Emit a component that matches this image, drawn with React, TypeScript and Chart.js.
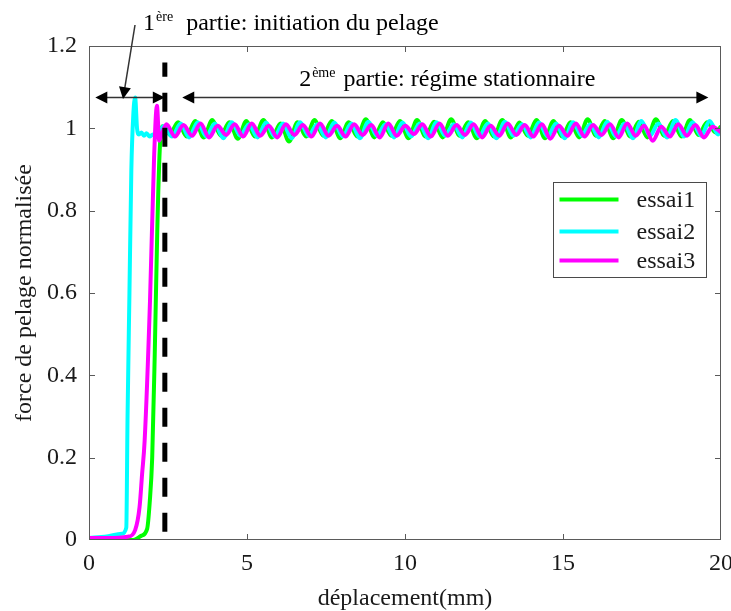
import React, { useEffect, useRef } from "react";
import { Chart, registerables } from "chart.js";

Chart.register(...registerables);

// ---------- data ----------
const seriesNames = ["essai1", "essai2", "essai3"];
const seriesColors = ["#00ff00", "#00ffff", "#ff00ff"];

const essai1X = [
  0, 0.6, 1.2, 1.4, 1.65, 1.84, 1.92, 2.0, 2.08, 2.16, 2.24, 2.32, 2.42,
  2.55, 2.82, 3.09, 3.36, 3.63, 3.9, 4.17, 4.44, 4.71, 4.98, 5.25, 5.52, 5.79, 6.06, 6.33, 6.6,
  6.87, 7.14, 7.41, 7.68, 7.95, 8.22, 8.49, 8.76, 9.03, 9.3, 9.57, 9.84, 10.11, 10.38, 10.65,
  10.92, 11.19, 11.46, 11.73, 12.0, 12.27, 12.54, 12.81, 13.08, 13.35, 13.62, 13.89, 14.16,
  14.43, 14.7, 14.97, 15.24, 15.51, 15.78, 16.05, 16.32, 16.59, 16.86, 17.13, 17.4, 17.67,
  17.94, 18.21, 18.48, 18.75, 19.02, 19.29, 19.56, 19.83, 20.0,
];
const essai1Y = [
  0, 0, 0, 0, 0.01, 0.027, 0.09, 0.2, 0.45, 0.75, 0.95, 1.005, 1.0,
  0.985, 1.015, 0.98, 1.018, 0.978, 1.02, 0.982, 1.015, 0.975, 1.018, 0.98, 1.02, 0.978, 1.012,
  0.968, 1.015, 0.98, 1.02, 0.982, 1.018, 0.976, 1.015, 0.98, 1.022, 0.978, 1.015, 0.982, 1.018,
  0.976, 1.02, 0.98, 1.016, 0.978, 1.022, 0.982, 1.015, 0.976, 1.018, 0.98, 1.02, 0.978, 1.014,
  0.982, 1.02, 0.976, 1.018, 0.98, 1.015, 0.978, 1.022, 0.982, 1.018, 0.976, 1.02, 0.98, 1.016,
  0.978, 1.022, 0.982, 1.018, 0.98, 1.02, 0.984, 1.015, 0.99, 1.005,
];

const essai2X = [
  0, 0.5, 1.04, 1.18, 1.22, 1.28, 1.34, 1.4, 1.46, 1.52, 1.58, 1.66, 1.74, 1.82, 1.92, 2.02,
  2.12, 2.22, 2.36,
  2.63, 2.9, 3.17, 3.44, 3.71, 3.98, 4.25, 4.52, 4.79, 5.06, 5.33, 5.6, 5.87, 6.14, 6.41, 6.68,
  6.95, 7.22, 7.49, 7.76, 8.03, 8.3, 8.57, 8.84, 9.11, 9.38, 9.65, 9.92, 10.19, 10.46, 10.73,
  11.0, 11.27, 11.54, 11.81, 12.08, 12.35, 12.62, 12.89, 13.16, 13.43, 13.7, 13.97, 14.24,
  14.51, 14.78, 15.05, 15.32, 15.59, 15.86, 16.13, 16.4, 16.67, 16.94, 17.21, 17.48, 17.75,
  18.02, 18.29, 18.56, 18.83, 19.1, 19.37, 19.64, 19.91, 20.0,
];
const essai2Y = [
  0.005, 0.008, 0.015, 0.03, 0.3, 0.6, 0.9, 1.03, 1.075, 1.0, 0.985, 0.99, 0.982, 0.988, 0.98,
  0.985, 0.98, 0.99, 1.005,
  0.98, 1.012, 0.978, 1.015, 0.98, 1.012, 0.976, 1.015, 0.982, 1.01, 0.978, 1.014, 0.98, 1.012,
  0.976, 1.015, 0.982, 1.01, 0.978, 1.014, 0.98, 1.012, 0.976, 1.016, 0.982, 1.01, 0.978, 1.014,
  0.98, 1.012, 0.976, 1.015, 0.982, 1.01, 0.978, 1.014, 0.98, 1.012, 0.976, 1.016, 0.982, 1.01,
  0.978, 1.014, 0.98, 1.012, 0.976, 1.015, 0.982, 1.01, 0.978, 1.016, 0.98, 1.012, 0.976, 1.018,
  0.982, 1.012, 0.978, 1.02, 0.98, 1.015, 0.982, 1.018, 0.985, 1.0,
];

const essai3X = [
  0, 0.6, 1.23, 1.46, 1.6, 1.68, 1.76, 1.93, 2.06, 2.15, 2.22, 2.32,
  2.45, 2.72, 2.99, 3.26, 3.53, 3.8, 4.07, 4.34, 4.61, 4.88, 5.15, 5.42, 5.69, 5.96, 6.23, 6.5,
  6.77, 7.04, 7.31, 7.58, 7.85, 8.12, 8.39, 8.66, 8.93, 9.2, 9.47, 9.74, 10.01, 10.28, 10.55,
  10.82, 11.09, 11.36, 11.63, 11.9, 12.17, 12.44, 12.71, 12.98, 13.25, 13.52, 13.79, 14.06,
  14.33, 14.6, 14.87, 15.14, 15.41, 15.68, 15.95, 16.22, 16.49, 16.76, 17.03, 17.3, 17.57,
  17.84, 18.11, 18.38, 18.65, 18.92, 19.19, 19.46, 19.73, 20.0,
];
const essai3Y = [
  0.005, 0.005, 0.008, 0.024, 0.08, 0.16, 0.24, 0.58, 0.93, 1.055, 0.97, 0.99,
  1.01, 0.98, 1.008, 0.982, 1.012, 0.978, 1.006, 0.984, 1.01, 0.98,
  1.012, 0.982, 1.006, 0.978, 1.01, 0.984, 1.008, 0.98, 1.012, 0.982,
  1.006, 0.98, 1.01, 0.984, 1.008, 0.978, 1.012, 0.982, 1.006, 0.986,
  1.01, 0.98, 1.012, 0.982, 1.008, 0.984, 1.01, 0.978, 1.006, 0.982,
  1.012, 0.984, 1.008, 0.98, 1.01, 0.975, 1.006, 0.982, 1.012, 0.98,
  1.008, 0.984, 1.01, 0.978, 1.012, 0.982, 1.006, 0.97, 1.004, 0.98,
  1.01, 0.982, 1.008, 0.978, 1.004, 0.99,
];

// dashed separator between the two parts (data units)
const separatorX = [2.4, 2.4];
const separatorY = [0.02, 1.16];

// annotation anchors (data units)
const part1Arrow = { x0: 0.2, x1: 2.4, y: 1.075 };
const part2Arrow = { x0: 2.95, x1: 19.6, y: 1.075 };
const pointerArrow = { x0: 1.456, y0: 1.251, x1: 1.076, y1: 1.071 };
const part1Label = { x: 1.71, y: 1.238, num: "1", sup: "ère", text: "partie: initiation du pelage" };
const part2Label = { x: 6.65, y: 1.102, num: "2", sup: "ème", text: "partie: régime stationnaire" };

const FONT = "'Liberation Serif', 'Times New Roman', Times, serif";
const TEXT = "#1a1a1a";

function toPts(xs: number[], ys: number[]) {
  return xs.map((x, i) => ({ x, y: ys[i] }));
}

function arrowHead(ctx: CanvasRenderingContext2D, tx: number, ty: number, fx: number, fy: number) {
  const ang = Math.atan2(ty - fy, tx - fx);
  const len = 12;
  const hw = 6;
  ctx.beginPath();
  ctx.moveTo(tx, ty);
  ctx.lineTo(tx - len * Math.cos(ang) + hw * Math.sin(ang), ty - len * Math.sin(ang) - hw * Math.cos(ang));
  ctx.lineTo(tx - len * Math.cos(ang) - hw * Math.sin(ang), ty - len * Math.sin(ang) + hw * Math.cos(ang));
  ctx.closePath();
  ctx.fill();
}

const overlayPlugin = {
  id: "overlay",
  afterDraw(chart: any) {
    const { ctx, chartArea: a, scales } = chart;
    const xs = scales.x;
    const ys = scales.y;
    ctx.save();

    // frame
    ctx.strokeStyle = "#5a5a5a";
    ctx.lineWidth = 1;
    ctx.strokeRect(a.left + 0.5, a.top + 0.5, a.right - a.left - 1, a.bottom - a.top - 1);

    // inward ticks
    ctx.beginPath();
    xs.ticks.forEach((t: any) => {
      const px = Math.round(xs.getPixelForValue(t.value)) + 0.5;
      if (px <= a.left + 1 || px >= a.right - 1) return;
      ctx.moveTo(px, a.bottom);
      ctx.lineTo(px, a.bottom - 6);
      ctx.moveTo(px, a.top);
      ctx.lineTo(px, a.top + 6);
    });
    ys.ticks.forEach((t: any) => {
      const py = Math.round(ys.getPixelForValue(t.value)) + 0.5;
      if (py <= a.top + 1 || py >= a.bottom - 1) return;
      ctx.moveTo(a.left, py);
      ctx.lineTo(a.left + 6, py);
      ctx.moveTo(a.right, py);
      ctx.lineTo(a.right - 6, py);
    });
    ctx.stroke();

    // horizontal double arrows
    ctx.strokeStyle = "#333";
    ctx.fillStyle = "#000";
    ctx.lineWidth = 1.5;
    [part1Arrow, part2Arrow].forEach((ar) => {
      const x0 = xs.getPixelForValue(ar.x0);
      const x1 = xs.getPixelForValue(ar.x1);
      const py = ys.getPixelForValue(ar.y);
      ctx.beginPath();
      ctx.moveTo(x0 + 6, py);
      ctx.lineTo(x1 - 6, py);
      ctx.stroke();
      arrowHead(ctx, x0, py, x1, py);
      arrowHead(ctx, x1, py, x0, py);
    });

    // pointer arrow
    {
      const fx = xs.getPixelForValue(pointerArrow.x0);
      const fy = ys.getPixelForValue(pointerArrow.y0);
      const tx = xs.getPixelForValue(pointerArrow.x1);
      const ty = ys.getPixelForValue(pointerArrow.y1);
      ctx.beginPath();
      ctx.moveTo(fx, fy);
      ctx.lineTo(tx + (fx - tx) * 0.1, ty + (fy - ty) * 0.1);
      ctx.stroke();
      arrowHead(ctx, tx, ty, fx, fy);
    }

    // labels with superscripts
    ctx.fillStyle = "#000";
    ctx.textBaseline = "alphabetic";
    ctx.textAlign = "left";
    const drawLabel = (lb: any, gap: number) => {
      let px = xs.getPixelForValue(lb.x);
      const py = ys.getPixelForValue(lb.y);
      ctx.font = `24px ${FONT}`;
      ctx.fillText(lb.num, px, py);
      px += ctx.measureText(lb.num).width;
      ctx.font = `14px ${FONT}`;
      ctx.fillText(lb.sup, px + 1, py - 9);
      px += ctx.measureText(lb.sup).width + 1;
      ctx.font = `24px ${FONT}`;
      ctx.fillText(lb.text, px + gap, py);
    };
    drawLabel(part1Label, 13);
    drawLabel(part2Label, 8);

    // legend
    const bw = 153;
    const bh = 95;
    const bx = a.right - 168 + 0.5;
    const by = a.top + 136 + 0.5;
    ctx.fillStyle = "#fff";
    ctx.fillRect(bx, by, bw, bh);
    ctx.strokeStyle = "#4a4a4a";
    ctx.lineWidth = 1;
    ctx.strokeRect(bx, by, bw, bh);
    const rows = [17, 49, 78];
    ctx.font = `24px ${FONT}`;
    ctx.textBaseline = "middle";
    seriesNames.forEach((name, i) => {
      const ry = by + rows[i];
      ctx.strokeStyle = seriesColors[i];
      ctx.lineWidth = 4;
      ctx.beginPath();
      ctx.moveTo(bx + 6, ry);
      ctx.lineTo(bx + 65, ry);
      ctx.stroke();
      ctx.fillStyle = TEXT;
      ctx.fillText(name, bx + 83, ry + 1);
    });

    ctx.restore();
  },
};

const fmtTick = (v: any) => String(Math.round(Number(v) * 10) / 10);

export default function App() {
  const ref = useRef<HTMLCanvasElement | null>(null);

  useEffect(() => {
    if (!ref.current) return;
    const series = [
      { xs: essai1X, ys: essai1Y, order: 3 },
      { xs: essai2X, ys: essai2Y, order: 2 },
      { xs: essai3X, ys: essai3Y, order: 1 },
    ];
    const datasets: any[] = series.map((s, i) => ({
      label: seriesNames[i],
      data: toPts(s.xs, s.ys),
      borderColor: seriesColors[i],
      backgroundColor: seriesColors[i],
      borderWidth: 4,
      pointRadius: 0,
      fill: false,
      cubicInterpolationMode: "monotone",
      order: s.order,
    }));
    datasets.push({
      label: "separator",
      data: toPts(separatorX, separatorY),
      borderColor: "#000",
      borderWidth: 5,
      borderDash: [19, 16],
      borderCapStyle: "butt",
      pointRadius: 0,
      fill: false,
      order: 0,
    });

    const chart = new Chart(ref.current, {
      type: "line",
      data: { datasets },
      plugins: [overlayPlugin],
      options: {
        animation: false,
        responsive: false,
        layout: { padding: { top: 46, right: 10, left: 0, bottom: 0 } },
        plugins: { legend: { display: false }, tooltip: { enabled: false } },
        scales: {
          x: {
            type: "linear",
            min: 0,
            max: 20,
            ticks: {
              stepSize: 5,
              font: { family: FONT, size: 24 },
              color: TEXT,
              padding: 9,
              maxRotation: 0,
              callback: fmtTick,
            },
            grid: { display: false, drawTicks: false },
            border: { display: false },
            title: {
              display: true,
              text: "déplacement(mm)",
              font: { family: FONT, size: 24 },
              color: TEXT,
              padding: { top: 0, bottom: -2 },
            },
            afterFit: (s: any) => {
              s.height = 71;
              s.paddingLeft = 0;
              s.paddingRight = 0;
            },
          },
          y: {
            type: "linear",
            min: 0,
            max: 1.2,
            ticks: {
              stepSize: 0.2,
              font: { family: FONT, size: 24 },
              color: TEXT,
              padding: 12,
              callback: fmtTick,
            },
            grid: { display: false, drawTicks: false },
            border: { display: false },
            title: {
              display: true,
              text: "force de pelage normalisée",
              font: { family: FONT, size: 24 },
              color: TEXT,
              padding: { top: 10, bottom: 0 },
            },
            afterFit: (s: any) => {
              s.width = 89;
              s.paddingTop = 0;
              s.paddingBottom = 0;
            },
          },
        },
      } as any,
    });
    return () => chart.destroy();
  }, []);

  return (
    <div style={{ position: "fixed", left: 0, top: 0, width: 731, height: 611, background: "#fff" }}>
      <canvas ref={ref} width={731} height={611} style={{ display: "block" }} />
    </div>
  );
}
